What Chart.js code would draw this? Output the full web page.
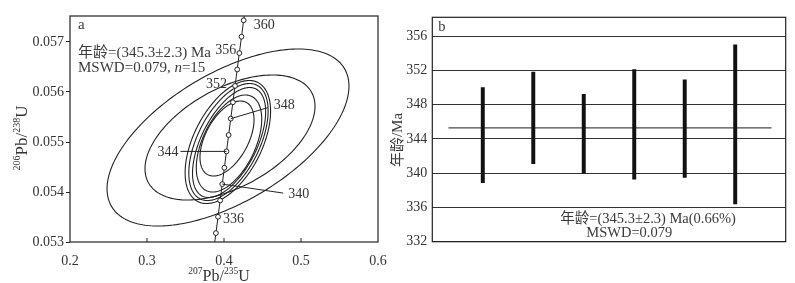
<!DOCTYPE html>
<html>
<head>
<meta charset="utf-8">
<script src="https://cdn.jsdelivr.net/npm/chart.js@4"></script>
<style>
  html, body { margin: 0; padding: 0; background: #fff; }
  #wrap { position: relative; width: 795px; height: 283px; }
  #left { position: absolute; left: 0; top: 0; }
  #right { position: absolute; left: 390px; top: 0; }
</style>
</head>
<body>
<div id="wrap">
  <canvas id="left" width="390" height="283"></canvas>
  <canvas id="right" width="405" height="283"></canvas>
</div>
<script>
// ---- panel a: concordia ----
const concordiaAge = [332, 334, 336, 338, 340, 342, 344, 346, 348, 350, 352, 354, 356, 358, 360, 362];
const concordiaX = [0.38676, 0.38949, 0.39224, 0.39498, 0.39773, 0.40049, 0.40325, 0.40601, 0.40879, 0.41156, 0.41435, 0.41713, 0.41993, 0.42273, 0.42553, 0.42835];
const concordiaY = [0.052851, 0.053178, 0.053504, 0.053831, 0.054158, 0.054485, 0.054812, 0.055140, 0.055467, 0.055795, 0.056122, 0.056450, 0.056778, 0.057106, 0.057434, 0.057762];
const markerAges = [334, 336, 338, 340, 342, 344, 346, 348, 350, 352, 354, 356, 358, 360];
const labelledAges = [360, 356, 352, 348, 344, 340, 336];

// error ellipses: centre, half widths, correlation
const ellipseX = [0.4052, 0.4078, 0.4050, 0.4058, 0.4066, 0.4065, 0.4039];
const ellipseY = [0.05509, 0.05509, 0.05500, 0.05500, 0.05499, 0.05497, 0.05507];
const ellipseRx = [0.1571, 0.1104, 0.0555, 0.0515, 0.0475, 0.0425, 0.0351];
const ellipseRy = [0.00177, 0.00125, 0.00123, 0.00117, 0.00110, 0.00097, 0.00075];
const ellipseRho = [0.58, 0.5, 0.5, 0.53, 0.56, 0.5, 0.5];

const xTicksA = [0.2, 0.3, 0.4, 0.5, 0.6];
const yTicksA = [0.053, 0.054, 0.055, 0.056, 0.057];

// ---- panel b: weighted mean ----
const spotIndex = [1, 2, 3, 4, 5, 6];
const ageLow = [338.9, 341.1, 340.0, 339.3, 339.5, 336.4];
const ageHigh = [350.0, 351.8, 349.2, 352.1, 350.9, 355.0];
const meanAge = 345.3;
const meanLineX = [0.32, 6.72];
const yTicksB = [332, 336, 340, 344, 348, 352, 356];

const serif = "'Liberation Serif', 'Noto Sans CJK SC', serif";
const ink = '#222';
const textGray = '#3a3a3a';

// label placement around concordia markers (px offsets)
const ageLabelPos = {
  360: { dx: 10, dy: 5, align: 'left' },
  356: { dx: -3, dy: -3, align: 'right' },
  352: { dx: -8, dy: -2, align: 'right' },
  348: { dx: 43, dy: -13, align: 'left', lx: 37, ly: -11 },
  344: { dx: -48, dy: 1, align: 'right', lx: -46, ly: 0 },
  340: { dx: 66, dy: 10, align: 'left', lx: 61, ly: 9 },
  336: { dx: 5, dy: 3, align: 'left' }
};

function drawRich(ctx, parts, cx, cy, big, small) {
  let w = 0;
  parts.forEach(p => {
    ctx.font = (p.sup ? small : big) + 'px ' + serif;
    p.w = ctx.measureText(p.t).width;
    w += p.w;
  });
  let x = cx - w / 2;
  ctx.textAlign = 'left';
  ctx.textBaseline = 'alphabetic';
  parts.forEach(p => {
    ctx.font = (p.sup ? small : big) + 'px ' + serif;
    ctx.fillText(p.t, x, p.sup ? cy - big * 0.42 : cy);
    x += p.w;
  });
}

const concordiaDecor = {
  id: 'concordiaDecor',
  beforeDatasetsDraw(chart) {
    const { ctx, chartArea: a, scales: { x, y } } = chart;
    ctx.save();
    ctx.beginPath();
    ctx.rect(a.left, a.top, a.right - a.left, a.bottom - a.top);
    ctx.clip();
    ctx.strokeStyle = ink;
    ctx.lineWidth = 1.1;
    ellipseX.forEach((cx, i) => {
      const r = ellipseRho[i], s = Math.sqrt(1 - r * r);
      ctx.beginPath();
      for (let k = 0; k <= 200; k++) {
        const t = k / 200 * 2 * Math.PI;
        const px = x.getPixelForValue(cx + ellipseRx[i] * Math.cos(t));
        const py = y.getPixelForValue(ellipseY[i] + ellipseRy[i] * (r * Math.cos(t) + s * Math.sin(t)));
        if (k) ctx.lineTo(px, py); else ctx.moveTo(px, py);
      }
      ctx.closePath();
      ctx.stroke();
    });
    ctx.restore();
  },
  afterDraw(chart) {
    const { ctx, chartArea: a, scales: { x, y } } = chart;
    ctx.save();
    ctx.strokeStyle = ink;
    ctx.lineWidth = 1.2;
    ctx.strokeRect(a.left, a.top, a.right - a.left, a.bottom - a.top);
    // inner ticks on x axis
    ctx.lineWidth = 1;
    xTicksA.slice(1, -1).forEach(v => {
      const px = x.getPixelForValue(v);
      ctx.beginPath(); ctx.moveTo(px, a.bottom); ctx.lineTo(px, a.bottom - 4); ctx.stroke();
    });

    // age labels + leader lines
    ctx.fillStyle = '#333';
    ctx.font = '14px ' + serif;
    ctx.textBaseline = 'middle';
    labelledAges.forEach(age => {
      const i = concordiaAge.indexOf(age);
      const mx = x.getPixelForValue(concordiaX[i]);
      const my = y.getPixelForValue(concordiaY[i]);
      const p = ageLabelPos[age];
      if (p.lx !== undefined) {
        ctx.beginPath(); ctx.moveTo(mx, my); ctx.lineTo(mx + p.lx, my + p.ly); ctx.stroke();
      }
      ctx.textAlign = p.align;
      ctx.fillText(String(age), mx + p.dx, my + p.dy);
    });

    // panel letter and result text
    ctx.fillStyle = textGray;
    ctx.textAlign = 'left';
    ctx.font = '15px ' + serif;
    ctx.fillText('a', a.left + 8, a.top + 9);
    ctx.fillText('年龄=(345.3±2.3) Ma', a.left + 8, a.top + 37);
    let tx = a.left + 8;
    const t1 = 'MSWD=0.079, ';
    ctx.fillText(t1, tx, a.top + 52);
    tx += ctx.measureText(t1).width;
    ctx.font = 'italic 15px ' + serif;
    ctx.fillText('n', tx, a.top + 52);
    tx += ctx.measureText('n').width;
    ctx.font = '15px ' + serif;
    ctx.fillText('=15', tx, a.top + 52);

    // axis titles with superscripts
    ctx.fillStyle = '#333';
    drawRich(ctx, [{ t: '207', sup: true }, { t: 'Pb/' }, { t: '235', sup: true }, { t: 'U' }],
      (a.left + a.right) / 2 - 5, 281, 16, 9.5);
    ctx.translate(27, 138);
    ctx.rotate(-Math.PI / 2);
    drawRich(ctx, [{ t: '206', sup: true }, { t: 'Pb/' }, { t: '238', sup: true }, { t: 'U' }], 0, 0, 17, 10);
    ctx.restore();
  }
};

new Chart(document.getElementById('left'), {
  type: 'scatter',
  data: {
    datasets: [{
      data: concordiaX.map((v, i) => ({ x: v, y: concordiaY[i] })),
      showLine: true,
      borderColor: ink,
      borderWidth: 1,
      pointRadius: concordiaAge.map(a => markerAges.includes(a) ? 2.4 : 0),
      pointBackgroundColor: '#fff',
      pointBorderColor: ink,
      pointBorderWidth: 1
    }]
  },
  options: {
    responsive: false,
    animation: false,
    devicePixelRatio: 1,
    layout: { padding: { top: 16, right: 12, left: 0, bottom: 0 } },
    plugins: { legend: { display: false }, tooltip: { enabled: false } },
    scales: {
      x: {
        type: 'linear', min: 0.2, max: 0.6,
        afterFit: s => { s.height = 41; },
        afterBuildTicks: s => { s.ticks = xTicksA.map(v => ({ value: v })); },
        ticks: { callback: v => v.toFixed(1), font: { family: serif, size: 14 }, color: '#333', padding: 3, maxRotation: 0 },
        grid: { display: false },
        border: { display: false }
      },
      y: {
        type: 'linear', min: 0.053, max: 0.05752,
        afterFit: s => { s.width = 70; },
        afterBuildTicks: s => { s.ticks = yTicksA.map(v => ({ value: v })); },
        ticks: { callback: v => v.toFixed(3), font: { family: serif, size: 14 }, color: '#333', padding: 2 },
        grid: { drawOnChartArea: false, tickLength: 4, color: ink },
        border: { display: false }
      }
    }
  },
  plugins: [concordiaDecor]
});

const meanDecor = {
  id: 'meanDecor',
  afterDraw(chart) {
    const { ctx, chartArea: a } = chart;
    ctx.save();
    ctx.strokeStyle = ink;
    ctx.lineWidth = 1.2;
    ctx.strokeRect(a.left, a.top, a.right - a.left, a.bottom - a.top);
    ctx.fillStyle = textGray;
    ctx.font = '14.5px ' + serif;
    ctx.textBaseline = 'middle';
    ctx.textAlign = 'left';
    ctx.fillText('b', a.left + 6, a.top + 10);
    ctx.fillText('年龄=(345.3±2.3) Ma(0.66%)', a.left + 128, 219);
    ctx.fillText('MSWD=0.079', a.left + 154, 233);
    ctx.translate(8, 140);
    ctx.rotate(-Math.PI / 2);
    ctx.textAlign = 'center';
    ctx.font = '15px ' + serif;
    ctx.fillText('年龄/Ma', 0, 0);
    ctx.restore();
  }
};

new Chart(document.getElementById('right'), {
  type: 'bar',
  data: {
    datasets: [
      {
        type: 'bar',
        data: spotIndex.map((v, i) => ({ x: v, y: [ageLow[i], ageHigh[i]] })),
        backgroundColor: '#111',
        barThickness: 3.3,
        grouped: false
      },
      {
        type: 'line',
        data: meanLineX.map(v => ({ x: v, y: meanAge })),
        borderColor: '#4a4a4a',
        borderWidth: 1.2,
        pointRadius: 0
      }
    ]
  },
  options: {
    responsive: false,
    animation: false,
    devicePixelRatio: 1,
    layout: { padding: { top: 17.3, right: 9.3, left: 0, bottom: 41.3 } },
    plugins: { legend: { display: false }, tooltip: { enabled: false } },
    scales: {
      x: { type: 'linear', min: 0, max: 7, offset: false, display: false },
      y: {
        type: 'linear', min: 332, max: 358.2,
        afterFit: s => { s.width = 42.3; },
        afterBuildTicks: s => { s.ticks = yTicksB.map(v => ({ value: v })); },
        ticks: { font: { family: serif, size: 14 }, color: '#333', padding: 5 },
        grid: { drawTicks: false, color: '#333', lineWidth: 1.1 },
        border: { display: false }
      }
    }
  },
  plugins: [meanDecor]
});
</script>
</body>
</html>
